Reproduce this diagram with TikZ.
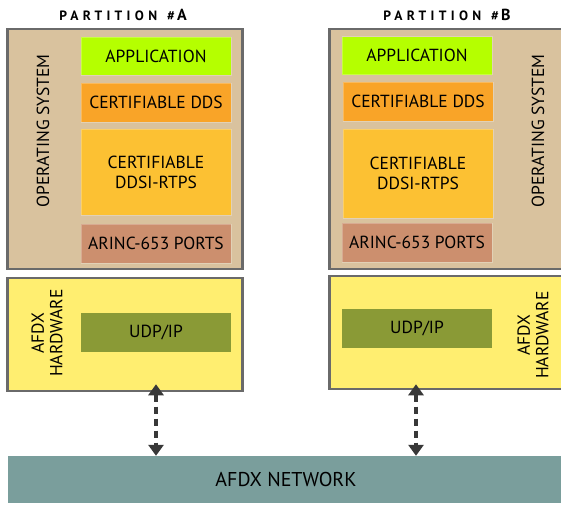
\documentclass[tikz,border=0pt]{standalone}
\usepackage{fontspec}
\setmainfont{PT Sans}
\newfontfamily\spacedfont[LetterSpace=32]{PT Sans}
\usetikzlibrary{arrows.meta}

\definecolor{osfill}{HTML}{D9C29E}
\definecolor{frame}{HTML}{6A6A6A}
\definecolor{appfill}{HTML}{B5FF00}
\definecolor{ddsfill}{HTML}{F9A428}
\definecolor{rtpsfill}{HTML}{FCC133}
\definecolor{arincfill}{HTML}{CC8F6E}
\definecolor{hwfill}{HTML}{FFEE70}
\definecolor{udpfill}{HTML}{8A9A36}
\definecolor{netfill}{HTML}{7A9E9C}
\definecolor{arrowgray}{HTML}{383838}

\tikzset{
  outerbox/.style={draw=frame, line width=2.5pt, inner sep=0pt},
  layer/.style={draw=white, draw opacity=0.25, line width=0.8pt, inner sep=0pt,
    minimum width=150pt, align=center, font=\fontsize{17.5}{20}\selectfont},
  vlabel/.style={rotate=90, align=center, font=\fontsize{17.5}{18.5}\selectfont},
  title/.style={font=\spacedfont\fontsize{13.5}{14}\selectfont\bfseries},
  netlink/.style={draw=arrowgray, line width=3.2pt, dash pattern=on 7pt off 5pt,
    {Triangle[length=11pt,width=15pt]}-{Triangle[length=11pt,width=15pt]}}
}

\begin{document}
\begin{tikzpicture}[x=1pt,y=-1pt]
\clip (0,0) rectangle (561,504);
\useasboundingbox (0,0) rectangle (561,504);
\fill[white] (0,0) rectangle (561,504);

% partition A
\node[title] (titleA) at (123,15) {PARTITION \,\#\,{\fontsize{16}{16}\selectfont A}};
\node[outerbox, fill=osfill, minimum width=235pt, minimum height=240pt] (osA) at (125,149) {};
\node[vlabel] (osAlbl) at (43,131) {OPERATING SYSTEM};
\node[layer, fill=appfill, minimum height=38pt] (appA) at (156,56) {APPLICATION};
\node[layer, fill=ddsfill, minimum height=39pt] (ddsA) at (156,102.5) {CERTIFIABLE DDS};
\node[layer, fill=rtpsfill, minimum height=86pt] (rtpsA) at (156,172) {CERTIFIABLE\\DDSI-RTPS};
\node[layer, fill=arincfill, minimum height=39pt] (arincA) at (156,243.5) {ARINC-653 PORTS};

\node[outerbox, fill=hwfill, minimum width=235pt, minimum height=113pt] (hwA) at (125,334.5) {};
\node[vlabel] (hwAlbl) at (47,333) {AFDX\\HARDWARE};
\node[layer, fill=udpfill, draw=none, minimum height=39pt] (udpA) at (156,332.5) {UDP/IP};

% partition B
\node[title] (titleB) at (447,15) {PARTITION \,\#\,{\fontsize{16}{16}\selectfont B}};
\node[outerbox, fill=osfill, minimum width=245pt, minimum height=240pt] (osB) at (452,149) {};
\node[vlabel] (osBlbl) at (538,131) {OPERATING SYSTEM};
\node[layer, fill=appfill, minimum height=38pt] (appB) at (417,55.5) {APPLICATION};
\node[layer, fill=ddsfill, minimum height=39pt] (ddsB) at (418,101.5) {CERTIFIABLE DDS};
\node[layer, fill=rtpsfill, minimum height=89pt] (rtpsB) at (418,173.5) {CERTIFIABLE\\DDSI-RTPS};
\node[layer, fill=arincfill, minimum height=39pt] (arincB) at (417,242.5) {ARINC-653 PORTS};

\node[outerbox, fill=hwfill, minimum width=245pt, minimum height=113pt] (hwB) at (452,332.5) {};
\node[vlabel] (hwBlbl) at (533,335) {AFDX\\HARDWARE};
\node[layer, fill=udpfill, draw=none, minimum height=39pt] (udpB) at (417,328.5) {UDP/IP};

% shared network
\node[fill=netfill, inner sep=0pt, minimum width=570pt, minimum height=47pt] (net) at (293,479.5) {};
\node[font=\fontsize{20}{22}\selectfont] (netlbl) at (286,479.5) {AFDX NETWORK};

% links between hardware and network
\draw[netlink] ([xshift=31pt,yshift=8pt]hwA.south) -- ([xshift=31pt]hwA.south |- net.north);
\draw[netlink] ([xshift=-36pt,yshift=6pt]hwB.south) -- ([xshift=-36pt]hwB.south |- net.north);
\end{tikzpicture}
\end{document}
